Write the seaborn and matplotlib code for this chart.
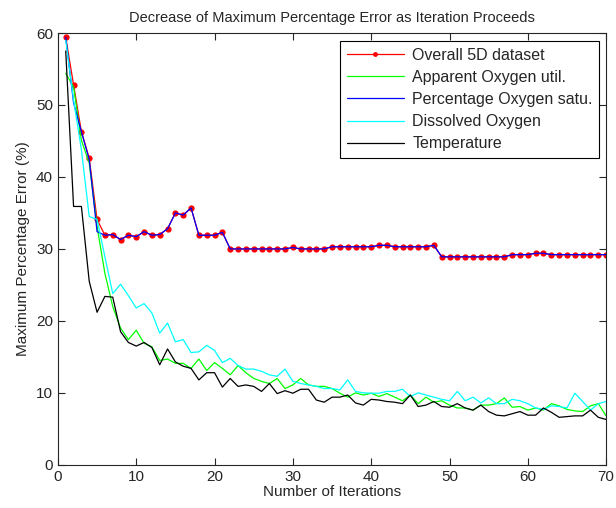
import matplotlib
matplotlib.use('Agg')
from matplotlib import pyplot as plt
import seaborn as sns
import numpy as np

iterations = np.arange(1, 71)

overall = [59.4, 52.8, 46.3, 42.6, 34.1, 31.9, 32.0, 31.3, 31.9, 31.7,
           32.4, 31.9, 32.0, 32.8, 35.0, 34.7, 35.7, 31.9, 31.9, 31.9,
           32.3, 30.0, 30.0, 30.0, 30.0, 30.0, 30.0, 30.0, 30.0, 30.2,
           30.0, 30.0, 30.0, 30.0, 30.3, 30.3, 30.3, 30.3, 30.3, 30.3,
           30.5, 30.5, 30.3, 30.3, 30.3, 30.3, 30.3, 30.5, 28.9, 28.9,
           28.9, 28.9, 28.9, 28.9, 28.9, 28.9, 28.9, 29.2, 29.2, 29.2,
           29.4, 29.4, 29.2, 29.2, 29.2, 29.2, 29.2, 29.2, 29.2, 29.2]

aou = [54.4, 52.5, 45.1, 41.9, 33.1, 26.6, 22.0, 19.0, 17.4, 18.7,
       16.9, 16.4, 14.5, 14.7, 14.1, 14.1, 13.4, 14.7, 13.1, 14.2,
       13.4, 12.5, 13.8, 12.8, 12.0, 11.6, 11.3, 12.0, 10.6, 11.1,
       12.0, 11.1, 10.9, 10.9, 10.6, 9.95, 9.4, 10.0, 9.7, 9.95,
       9.5, 9.9, 9.4, 8.9, 9.7, 8.5, 9.4, 8.7, 8.9, 8.3,
       7.9, 7.9, 7.6, 8.3, 8.3, 8.5, 9.3, 8.0, 8.1, 7.6,
       7.9, 7.6, 8.5, 8.2, 7.7, 7.5, 7.4, 8.2, 8.5, 6.8]

pos = [59.4, 50.3, 46.3, 42.4, 32.4, 31.9, 32.0, 31.3, 31.9, 31.7,
       32.4, 31.9, 32.0, 32.8, 35.0, 34.7, 35.7, 31.9, 31.9, 31.9,
       32.3, 30.0, 30.0, 30.0, 30.0, 30.0, 30.0, 30.0, 30.0, 30.2,
       30.0, 30.0, 30.0, 30.0, 30.3, 30.3, 30.3, 30.3, 30.3, 30.3,
       30.5, 30.5, 30.3, 30.3, 30.3, 30.3, 30.3, 30.5, 28.9, 28.9,
       28.9, 28.9, 28.9, 28.9, 28.9, 28.9, 28.9, 29.2, 29.2, 29.2,
       29.4, 29.4, 29.2, 29.2, 29.2, 29.2, 29.2, 29.2, 29.2, 29.2]

dissolved = [59.0, 50.7, 43.8, 34.5, 34.1, 28.9, 23.8, 25.1, 23.5, 21.8,
             22.4, 21.1, 18.3, 19.7, 17.1, 17.4, 15.6, 15.7, 16.6, 15.9,
             14.2, 14.8, 13.8, 13.3, 13.3, 13.0, 12.5, 12.3, 13.3, 11.6,
             11.3, 11.1, 10.9, 10.6, 10.6, 10.4, 11.8, 10.2, 10.0, 9.95,
             9.95, 10.2, 10.2, 10.5, 9.5, 10.0, 9.7, 9.4, 9.1, 8.9,
             10.2, 8.9, 9.4, 8.6, 9.3, 8.5, 8.5, 9.1, 8.9, 8.5,
             7.9, 7.7, 8.2, 8.1, 7.9, 9.95, 8.8, 7.6, 8.5, 8.8]

temperature = [57.5, 35.9, 35.9, 25.5, 21.2, 23.4, 23.3, 18.5, 17.0, 16.5,
               17.0, 16.3, 13.9, 16.1, 14.3, 13.7, 13.4, 11.8, 12.8, 12.8,
               10.8, 12.0, 10.9, 11.1, 10.9, 10.2, 11.3, 9.9, 10.3, 9.95,
               10.5, 10.5, 9.0, 8.7, 9.4, 9.4, 9.7, 8.6, 8.3, 9.1,
               9.0, 8.8, 8.7, 8.5, 9.7, 8.1, 8.3, 8.8, 8.1, 8.0,
               8.5, 7.9, 7.6, 8.3, 7.4, 6.9, 6.8, 7.1, 7.4, 6.9,
               6.9, 7.9, 7.3, 6.6, 6.7, 6.8, 6.8, 7.6, 6.6, 6.3]

series = [
    ('Overall 5D dataset', overall, '#ff0000', 'o'),
    ('Apparent Oxygen util.', aou, '#00ff00', None),
    ('Percentage Oxygen satu.', pos, '#0000ff', None),
    ('Dissolved Oxygen', dissolved, '#00ffff', None),
    ('Temperature', temperature, '#000000', None),
]

sns.set_style('ticks')
plt.rcParams['font.family'] = ['Liberation Sans', 'DejaVu Sans']
plt.rcParams['xtick.direction'] = 'in'
plt.rcParams['ytick.direction'] = 'in'
plt.rcParams['xtick.top'] = True
plt.rcParams['ytick.right'] = True
plt.rcParams['legend.numpoints'] = 1

fig = plt.figure(figsize=(6.16, 5.08), dpi=100)
ax = fig.add_axes([0.094, 0.085, 0.89, 0.85])

for name, vals, clr, mk in series:
    sns.lineplot(x=iterations, y=vals, ax=ax, color=clr, label=name,
                 linewidth=0.9, marker=mk, markersize=4.5 if mk else 0,
                 markeredgewidth=0, estimator=None)

ax.set_xlim(0, 70)
ax.set_ylim(0, 60)
ax.set_xticks(range(0, 71, 10))
ax.set_yticks(range(0, 61, 10))
ax.tick_params(labelsize=11, length=5, width=0.8)
for sp in ax.spines.values():
    sp.set_linewidth(0.8)
ax.set_xlabel('Number of Iterations', fontsize=11, labelpad=1)
ax.set_ylabel('Maximum Percentage Error (%)', fontsize=11, labelpad=4)
ax.set_title('Decrease of Maximum Percentage Error as Iteration Proceeds', fontsize=10.5, pad=8)

leg = ax.legend(loc='upper right', fontsize=11.5, frameon=True, fancybox=False,
                edgecolor='black', framealpha=1, handlelength=3.6,
                borderpad=0.4, labelspacing=0.45, handletextpad=0.5,
                numpoints=1, borderaxespad=0, bbox_to_anchor=(0.987, 0.981))
leg.get_frame().set_linewidth(0.8)
leg.legend_handles[0].set_markersize(3.5)

plt.savefig('out.png', dpi=100)
